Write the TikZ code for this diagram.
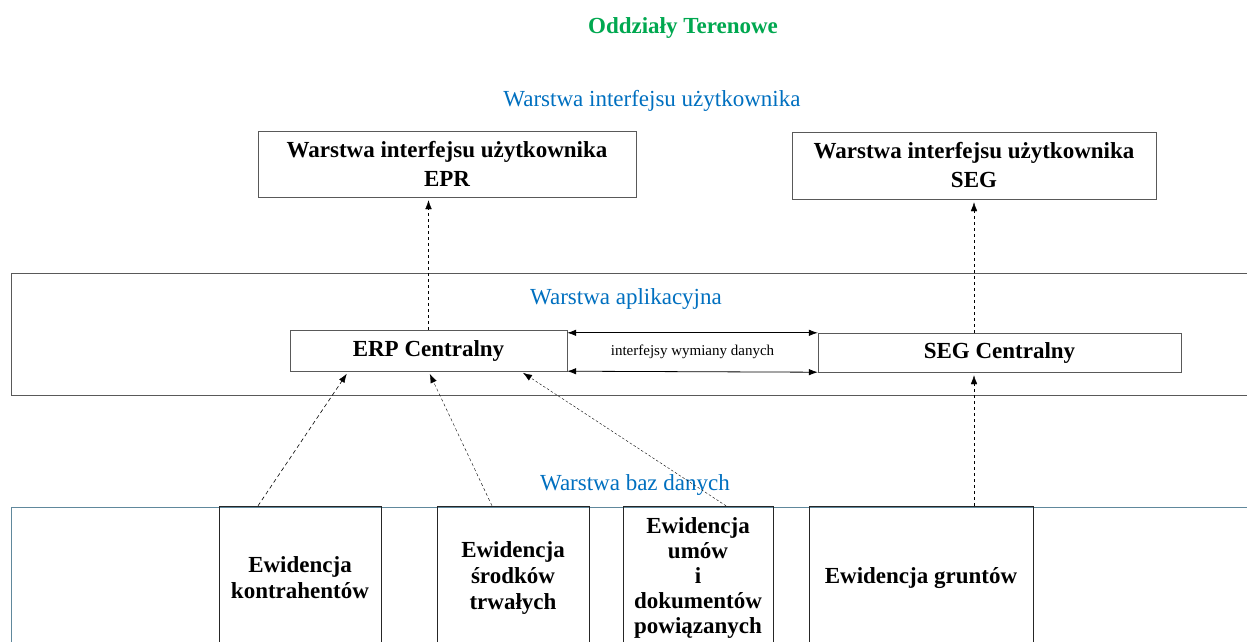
\documentclass[tikz,border=0pt]{standalone}
\usepackage{fontspec}
\setmainfont{Liberation Serif}
\usetikzlibrary{positioning, arrows.meta}

\definecolor{layerblue}{RGB}{0,112,192}
\definecolor{titlegreen}{RGB}{0,168,80}
\definecolor{dbline}{RGB}{96,136,156}

\tikzset{
	box/.style={draw=black!65, rectangle, inner sep=0pt, align=center,
		font=\bfseries\fontsize{23}{29}\selectfont},
	dbbox/.style={box, draw=black!85, minimum height=144pt, font=\bfseries\fontsize{23}{26}\selectfont},
	layer/.style={text=layerblue, font=\fontsize{23}{27}\selectfont},
	dep/.style={-{Latex[length=9pt,width=6.5pt]}, dashed, shorten >=3pt},
	link/.style={{Latex[length=9pt,width=6.5pt]}-{Latex[length=9pt,width=6.5pt]}, thick}
}

\begin{document}
\begin{tikzpicture}[x=1pt, y=-1pt]
					\clip (0,0) rectangle (1247,641);
					\fill[white] (0,0) rectangle (1247,641);
					
					% titles of the layers
					\node[text=titlegreen, font=\bfseries\fontsize{23}{27}\selectfont] (branch) at (683,28) {Oddziały Terenowe};
					\node[layer] (uilayer) at (652,101) {Warstwa interfejsu użytkownika};
					\node[layer] (applayer) at (626,299) {Warstwa aplikacyjna};
					\node[layer] (dblayer) at (635,485) {Warstwa baz danych};
					
					% frames of the layers
					\draw[black!65, thick] (11,273) rectangle (1270,395);
					\draw[dbline] (11,660) -- (11,507) -- (1270,507);
					
					% user interface
					\node[box, minimum width=378pt, minimum height=66pt] (eprui) at (447,164) {Warstwa interfejsu użytkownika\\EPR};
					\node[box, minimum width=364pt, minimum height=67pt] (segui) at (974,165.5) {Warstwa interfejsu użytkownika\\SEG};
					
					% applications
					\node[box, minimum width=277pt, minimum height=41pt] (erpc) at (428.5,350.5) {ERP Centralny};
					\node[box, minimum width=363pt, minimum height=39pt] (segc) at (999.5,352.5) {SEG Centralny};
					\node[font=\fontsize{15}{18}\selectfont] (iface) at (692.5,352) {interfejsy wymiany danych};
					
					% databases
					\node[dbbox, minimum width=162pt] (db1) at (300,578) {Ewidencja\\kontrahentów};
					\node[dbbox, minimum width=152pt] (db2) at (513,578) {Ewidencja\\środków\\trwałych};
					\node[dbbox, minimum width=150pt, font=\bfseries\fontsize{23}{25}\selectfont] (db3) at (698,578) {Ewidencja\\umów\\i\\dokumentów\\powiązanych};
					\node[dbbox, minimum width=224pt] (db4) at (921,578) {Ewidencja gruntów};
					
					\draw[link] (erpc.east |- segc.north) -- (segc.north west);
					\draw[link] (erpc.south east) -- (segc.south west);
					
					\draw[dep] (erpc.north) -- (erpc.north |- eprui.south);
					\draw[dep] (segc.north -| segui.south) -- (segui.south);
					\draw[dep] (db4.north -| segui.south) -- (segc.south -| segui.south);
					
					\draw[dep, dash pattern=on 4pt off 3pt, semithick] ([xshift=-42pt]db1.north) -- ([xshift=-80pt]erpc.south);
					\draw[dep, dash pattern=on 3pt off 2.5pt] ([xshift=-21pt]db2.north) -- (erpc.south);
					\draw[dep, dash pattern=on 2.5pt off 2pt, thin] ([xshift=28pt]db3.north) -- ([xshift=92pt]erpc.south);
				\end{tikzpicture}
\end{document}
